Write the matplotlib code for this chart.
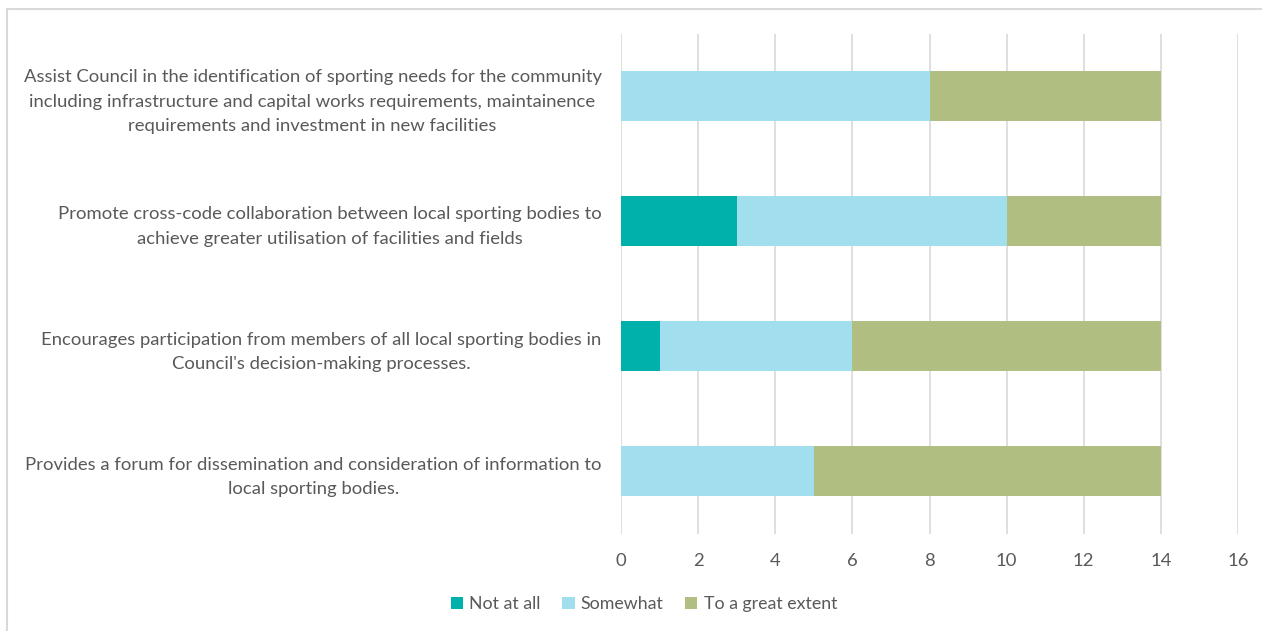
import numpy as np
import matplotlib.pyplot as plt
from matplotlib.patches import Rectangle

plt.rcParams['font.family'] = ['Lato', 'DejaVu Sans']

questions = [
    "Assist Council in the identification of sporting needs for the community\n"
    "including infrastructure and capital works requirements, maintainence\n"
    "requirements and investment in new facilities",
    "Promote cross-code collaboration between local sporting bodies to\n"
    "achieve greater utilisation of facilities and fields",
    "Encourages participation from members of all local sporting bodies in\n"
    "Council's decision-making processes.",
    "Provides a forum for dissemination and consideration of information to\n"
    "local sporting bodies.",
]
not_at_all = [0, 3, 1, 0]
somewhat = [8, 7, 5, 5]
great_extent = [6, 4, 8, 9]

series = ["Not at all", "Somewhat", "To a great extent"]
colors = ["#00B0AA", "#A1DFEF", "#B0BE82"]
text_col = "#595959"

fig = plt.figure(figsize=(12.62, 6.31), dpi=100)
ax = fig.add_axes([621 / 1262, 1 - 533.5 / 631, 617 / 1262, 500 / 631])

y = np.arange(len(questions))
left = np.zeros(len(questions))
for vals, name, c in zip([not_at_all, somewhat, great_extent], series, colors):
    ax.barh(y, vals, left=left, height=0.4, color=c, label=name, zorder=3)
    left += np.array(vals)

ax.set_xlim(0, 16)
ax.set_ylim(len(questions) - 0.5, -0.5)
ax.set_xticks(range(0, 17, 2))
ax.set_yticks(y)
ax.set_yticklabels(questions, ha='right', multialignment='center', linespacing=1.62)
ax.grid(axis='x', color='#D9D9D9', linewidth=1.2, zorder=0)
for s in ax.spines.values():
    s.set_visible(False)
ax.tick_params(axis='both', length=0, colors=text_col, labelsize=13.3)
ax.tick_params(axis='y', pad=14)
ax.tick_params(axis='x', pad=14)

leg = fig.legend(loc='center', bbox_to_anchor=(644 / 1262, 1 - 604 / 631), ncol=3,
                 frameon=False, fontsize=12.8, handlelength=0.7, handleheight=0.7,
                 handletextpad=0.35, columnspacing=1.2)
for t in leg.get_texts():
    t.set_color(text_col)

# outer chart frame (top and left edges visible)
fig.patches.append(Rectangle((6.5 / 1262, -0.1), 1.2, 1 - 9 / 631 + 0.1,
                             transform=fig.transFigure, fill=False,
                             edgecolor='#D9D9D9', linewidth=1.5))

fig.savefig('out.png', dpi=100)
